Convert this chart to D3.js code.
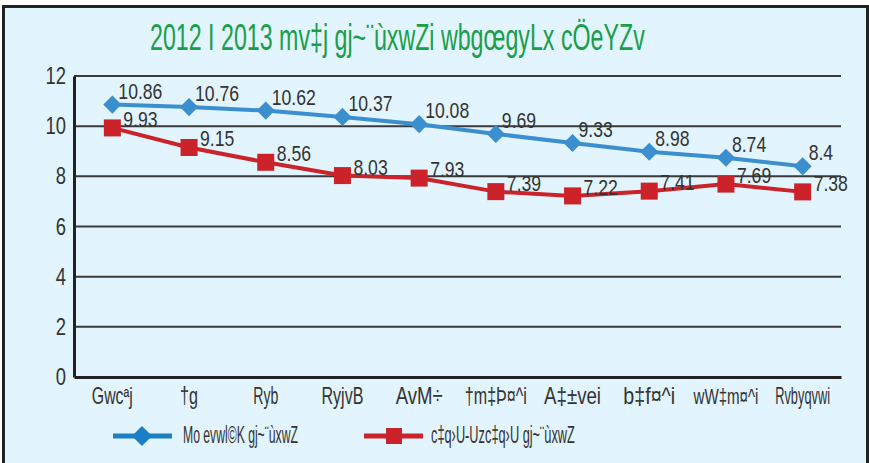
<!DOCTYPE html>
<html><head><meta charset="utf-8">
<script src="https://cdn.jsdelivr.net/npm/d3@7/dist/d3.min.js"></script>
<style>
html,body{margin:0;padding:0;background:#fff;}
svg text{font-family:"Liberation Sans",Arial,sans-serif;}
</style></head>
<body>
<svg id="c" width="869" height="463"></svg>
<script>
const titleText = "2012 I 2013 mv‡j gj~¨ùxwZi wbgœgyLx cÖeYZv";
const months = ["Gwcªj","†g","Ryb","RyjvB","AvM÷","†m‡Þ¤^i","A‡±vei","b‡f¤^i","wW‡m¤^i","Rvbyqvwi"];
const monthWidths = [41,18,25,42,47,62,57,52,65,55];
const averageValues = [10.86,10.76,10.62,10.37,10.08,9.69,9.33,8.98,8.74,8.4];
const pointValues = [9.93,9.15,8.56,8.03,7.93,7.39,7.22,7.41,7.69,7.38];
const seriesNames = ["Mo evwl©K gj~¨ùxwZ","c‡q›U-Uzc‡q›U gj~¨ùxwZ"];
const yTicks = [0,2,4,6,8,10,12];

const svg = d3.select("#c");
const blue = "#3b8fcf", red = "#cc2229";

// draws text at (x,y) squeezed horizontally to width w (anchor: start|middle|end)
function sq(parent, str, px, py, size, w, anchor, color){
  const g = parent.append("g");
  const t = g.append("text").attr("font-size",size).attr("fill",color||"#333")
    .attr("text-anchor",anchor||"start").text(str);
  const nw = t.node().getComputedTextLength();
  const k = w==null ? 0.8 : w/nw;
  g.attr("transform",`translate(${px},${py}) scale(${k},1)`);
  return g;
}

svg.append("rect").attr("x",3.5).attr("y",6.5).attr("width",864).attr("height",470)
  .attr("fill","#e2f4fd").attr("stroke","#222").attr("stroke-width",3);

sq(svg, titleText, 150, 50, 37, 495, "start", "#1a9e4a");

const x = d3.scalePoint().domain(months).range([74,841]).padding(0.5);
const y = d3.scaleLinear().domain([0,12]).range([377,76]);

svg.append("g").selectAll("line").data(yTicks.filter(d=>d>0)).join("line")
  .attr("x1",74).attr("x2",841).attr("y1",d=>y(d)).attr("y2",d=>y(d))
  .attr("stroke","#3a3a3a").attr("stroke-width",2);

// y axis
const yAxis = svg.append("g").attr("transform","translate(74,0)")
  .call(d3.axisLeft(y).tickValues(yTicks).tickSize(0).tickFormat(""));
yAxis.select(".domain").attr("stroke","#222").attr("stroke-width",3);
const yl = svg.append("g");
yTicks.forEach(v => sq(yl, String(v), 66, y(v)+8, 23, null, "end"));

// x axis
const xAxis = svg.append("g").attr("transform","translate(0,377)")
  .call(d3.axisBottom(x).tickSize(0).tickFormat(""));
xAxis.select(".domain").attr("stroke","#222").attr("stroke-width",3);
const xl = svg.append("g");
months.forEach((m,i) => sq(xl, m, x(m), 404, 23, monthWidths[i], "middle"));

// lines
const line = d3.line().x((d,i)=>x(months[i])).y(d=>y(d));
svg.append("path").datum(averageValues).attr("d",line).attr("fill","none")
  .attr("stroke",blue).attr("stroke-width",4);
svg.append("path").datum(pointValues).attr("d",line).attr("fill","none")
  .attr("stroke",red).attr("stroke-width",4);

const diamond = d3.symbol().type(d3.symbolDiamond2).size(210);
svg.append("g").selectAll("path").data(averageValues).join("path")
  .attr("transform",(d,i)=>`translate(${x(months[i])},${y(d)})`)
  .attr("d",diamond).attr("fill",blue);
svg.append("g").selectAll("rect").data(pointValues).join("rect")
  .attr("x",(d,i)=>x(months[i])-8.5).attr("y",d=>y(d)-8.5)
  .attr("width",17).attr("height",17).attr("fill",red);

// data labels
const dl = svg.append("g");
averageValues.forEach((v,i)=> sq(dl, String(v), x(months[i])+6, y(v)-6, 22, null, "start"));
pointValues.forEach((v,i)=> sq(dl, String(v), x(months[i])+11, y(v)-1, 22, null, "start"));

// legend
const lg = svg.append("g");
lg.append("line").attr("x1",113).attr("x2",172).attr("y1",436).attr("y2",436)
  .attr("stroke","#1a7fc4").attr("stroke-width",5);
lg.append("path").attr("transform","translate(142,436)").attr("d",d3.symbol().type(d3.symbolDiamond2).size(260)).attr("fill","#1a7fc4");
sq(lg, seriesNames[0], 183, 443, 24, 115, "start");
lg.append("line").attr("x1",364).attr("x2",423).attr("y1",436).attr("y2",436)
  .attr("stroke",red).attr("stroke-width",5);
lg.append("rect").attr("x",386).attr("y",428).attr("width",16).attr("height",16).attr("fill",red);
sq(lg, seriesNames[1], 431, 443, 24, 144, "start");
</script>
</body></html>
